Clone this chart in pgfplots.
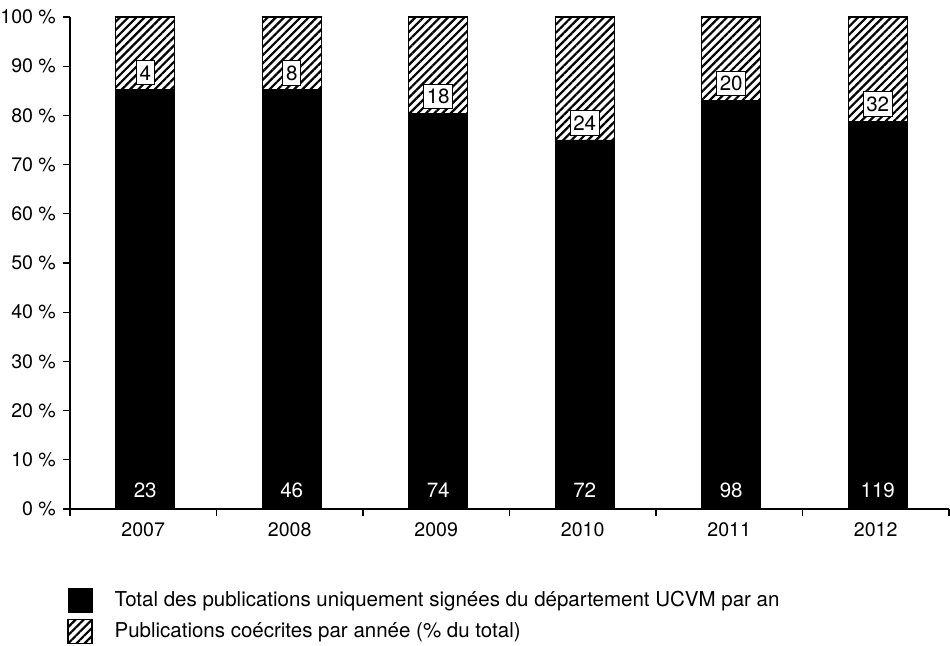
\documentclass[border=0pt]{standalone}
\usepackage{fontspec}
\setmainfont{TeX Gyre Heros}
\usepackage{pgfplots}
\pgfplotsset{compat=1.18}
\usetikzlibrary{patterns.meta}
\pgfplotsset{sqlegend/.style={legend image code/.code={\draw[##1] (0pt,-6pt) rectangle (12pt,6pt);}}}
\begin{document}
\begin{tikzpicture}
\begin{axis}[
  scale only axis, width=439.5pt, height=246pt,
  xmin=-0.5, xmax=5.5, ymin=0, ymax=100,
  axis lines=left, axis line style={-, line width=0.6pt},
  tick align=outside, major tick length=3.5pt,
  tick style={black, line width=0.6pt},
  /pgf/number format/assume math mode=true,
  ytick={0,10,...,100},
  yticklabel={\pgfmathprintnumber{\tick}\ \%},
  xtick={-0.5,0.5,...,5.5}, xticklabels={},
  extra x ticks={0,1,2,3,4,5},
  extra x tick labels={2007,2008,2009,2010,2011,2012},
  extra x tick style={major tick length=0pt, xticklabel style={yshift=-3.5pt}},
  every tick label/.append style={font=\fontsize{9.8}{11}\selectfont},
  legend style={at={(rel axis cs:0,0)}, anchor=north west, yshift=-37pt, xshift=-4.5pt,
    draw=none, fill=none, font=\fontsize{10.25}{12}\selectfont, row sep=2.5pt,
    /tikz/every odd column/.append style={column sep=9pt}},
  legend cell align=left,
]
\coordinate (O) at (rel axis cs:0,0);
\addplot[ybar, bar width=29.5pt, bar shift=1pt, fill=black, draw=black, sqlegend]
  coordinates {(0,85.19) (1,85.19) (2,80.43) (3,75.00) (4,83.05) (5,78.81)};
\addlegendentry{Total des publications uniquement signées du département UCVM par an}
\addplot[ybar, bar width=29.5pt, bar shift=1pt, draw=black, line width=0.6pt,
  pattern={Lines[angle=45,distance=2.9pt,line width=1.1pt]}, pattern color=black, sqlegend]
  coordinates {(0,100) (1,100) (2,100) (3,100) (4,100) (5,100)};
\addlegendentry{Publications coécrites par année (\% du total)}
\addplot[forget plot, only marks, mark=none, nodes near coords, point meta=explicit symbolic,
  nodes near coords style={anchor=center, yshift=8.5pt, xshift=1pt, fill=white, draw=black, line width=0.5pt,
    inner xsep=1.6pt, inner ysep=2.4pt, text=black, font=\fontsize{10.3}{12}\selectfont}]
  coordinates {(0,85.19)[4] (1,85.19)[8] (2,80.43)[18] (3,75.00)[24] (4,83.05)[20] (5,78.81)[32]};
\addplot[forget plot, only marks, mark=none, nodes near coords, point meta=explicit symbolic,
  nodes near coords style={anchor=south, yshift=2pt, xshift=1pt, text=white, font=\fontsize{10.3}{12}\selectfont}]
  coordinates {(0,0)[23] (1,0)[46] (2,0)[74] (3,0)[72] (4,0)[98] (5,0)[119]};
\end{axis}
\pgfresetboundingbox
\path[use as bounding box] (O) ++(-35pt,-68.5pt) rectangle ++(475pt,323pt);
\end{tikzpicture}
\end{document}
